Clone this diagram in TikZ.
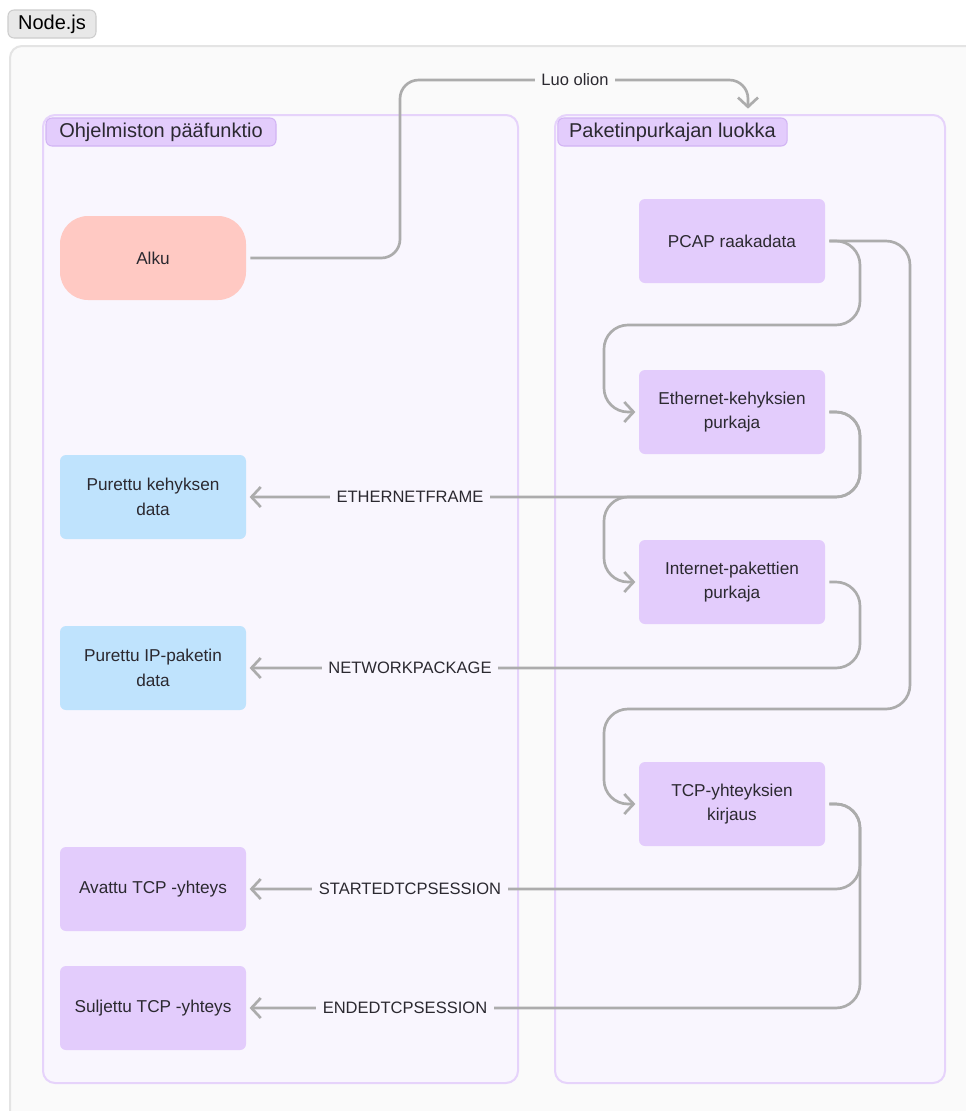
\documentclass[tikz,border=0pt]{standalone}
\usepackage{fontspec}
\setmainfont{Liberation Sans}
\usetikzlibrary{arrows.meta}

\definecolor{ink}{HTML}{2B2930}
\definecolor{wire}{HTML}{ACACAC}
\definecolor{canvasbg}{HTML}{FAFAFA}
\definecolor{canvasline}{HTML}{E4E4E4}
\definecolor{grpbg}{HTML}{F9F6FE}
\definecolor{grpline}{HTML}{E6D3FB}
\definecolor{lav}{HTML}{E3CCFC}
\definecolor{lavline}{HTML}{D2B4F4}
\definecolor{sky}{HTML}{BFE3FD}
\definecolor{rose}{HTML}{FFC9C3}
\definecolor{tagbg}{HTML}{E8E8E8}
\definecolor{tagline}{HTML}{CDCDCD}

\begin{document}
\begin{tikzpicture}[x=0.75pt,y=-0.75pt,
  box/.style={minimum width=139.5pt,minimum height=63pt,rounded corners=4.5pt,
    align=center,text=ink,inner sep=0pt,font=\fontsize{12.9}{18.5}\selectfont},
  lavbox/.style={box,fill=lav},
  skybox/.style={box,fill=sky},
  startbox/.style={box,fill=rose,rounded corners=21pt},
  group/.style={draw=grpline,fill=grpbg,line width=1.5pt,rounded corners=9pt,inner sep=0pt},
  grouptag/.style={draw=lavline,fill=lav,line width=0.8pt,rounded corners=4.5pt,text=ink,
    minimum height=21pt,inner sep=0pt,font=\fontsize{15}{17}\selectfont},
  pkgtag/.style={draw=tagline,fill=tagbg,line width=0.8pt,rounded corners=4.5pt,text=black,
    minimum height=21pt,inner sep=0pt,font=\fontsize{15}{17}\selectfont},
  wirepath/.style={draw=wire,line width=2pt,rounded corners=18pt,
    -{Straight Barb[length=7pt,width=15pt,line width=2pt]},
    shorten <=3pt,shorten >=2.5pt},
  elabel/.style={fill=grpbg,text=ink,inner xsep=5pt,inner ysep=3pt,
    font=\fontsize{12.4}{14}\selectfont},
]
\useasboundingbox (0,0) rectangle (966,1111);
\clip (0,0) rectangle (966,1111);
\fill[white] (0,0) rectangle (966,1111);

% outer canvas frame
\draw[canvasline,fill=canvasbg,line width=1.5pt,rounded corners=9pt] (10,46) rectangle (1000,1140);
\node[pkgtag,minimum width=66pt] (pkg) at (52,24) {Node.js};

% the two containers
\node[group,minimum width=356.25pt,minimum height=726pt] (mainfn) at (280.5,599) {};
\node[group,minimum width=292.5pt,minimum height=726pt] (parser) at (750,599) {};
\node[grouptag,minimum width=172.5pt] (mainfntag) at (161,132) {Ohjelmiston pääfunktio};
\node[grouptag,minimum width=172pt] (parsertag) at (672.5,132) {Paketinpurkajan luokka};

% left column
\node[startbox] (alku) at (153,258) {Alku};
\node[skybox] (kehys) at (153,497) {Purettu kehyksen\\data};
\node[skybox] (ipdata) at (153,668) {Purettu IP-paketin\\data};
\node[lavbox] (avattu) at (153,889) {Avattu TCP -yhteys};
\node[lavbox] (suljettu) at (153,1008) {Suljettu TCP -yhteys};

% right column
\node[lavbox] (pcap) at (732,241) {PCAP raakadata};
\node[lavbox] (eth) at (732,412) {Ethernet-kehyksien\\purkaja};
\node[lavbox] (inet) at (732,582) {Internet-pakettien\\purkaja};
\node[lavbox] (tcp) at (732,804) {TCP-yhteyksien\\kirjaus};

\coordinate (parserin) at (748,112);

% connectors
\draw[wirepath,rounded corners=14pt] (alku.east) -| (400,80) -| (parserin);
\draw[wirepath] (pcap.east) -| (860,325) -| (604,412) -- (eth.west);
\draw[wirepath] (pcap.east) -| (910,709) -| (604,804) -- (tcp.west);
\draw[wirepath] (eth.east) -| (860,497) -- (kehys.east);
\draw[wirepath] (eth.east) -| (860,497) -| (604,582) -- (inet.west);
\draw[wirepath] (inet.east) -| (860,668) -- (ipdata.east);
\draw[wirepath] (tcp.east) -| (860,889) -- (avattu.east);
\draw[wirepath] (tcp.east) -| (860,1008) -- (suljettu.east);

% connector labels
\node[elabel,fill=canvasbg] (lluo) at (575,80) {Luo olion};
\node[elabel] (leth) at (410,497) {ETHERNETFRAME};
\node[elabel] (lnet) at (410,668) {NETWORKPACKAGE};
\node[elabel] (lstart) at (410,889) {STARTEDTCPSESSION};
\node[elabel] (lend) at (405,1008) {ENDEDTCPSESSION};
\end{tikzpicture}
\end{document}
